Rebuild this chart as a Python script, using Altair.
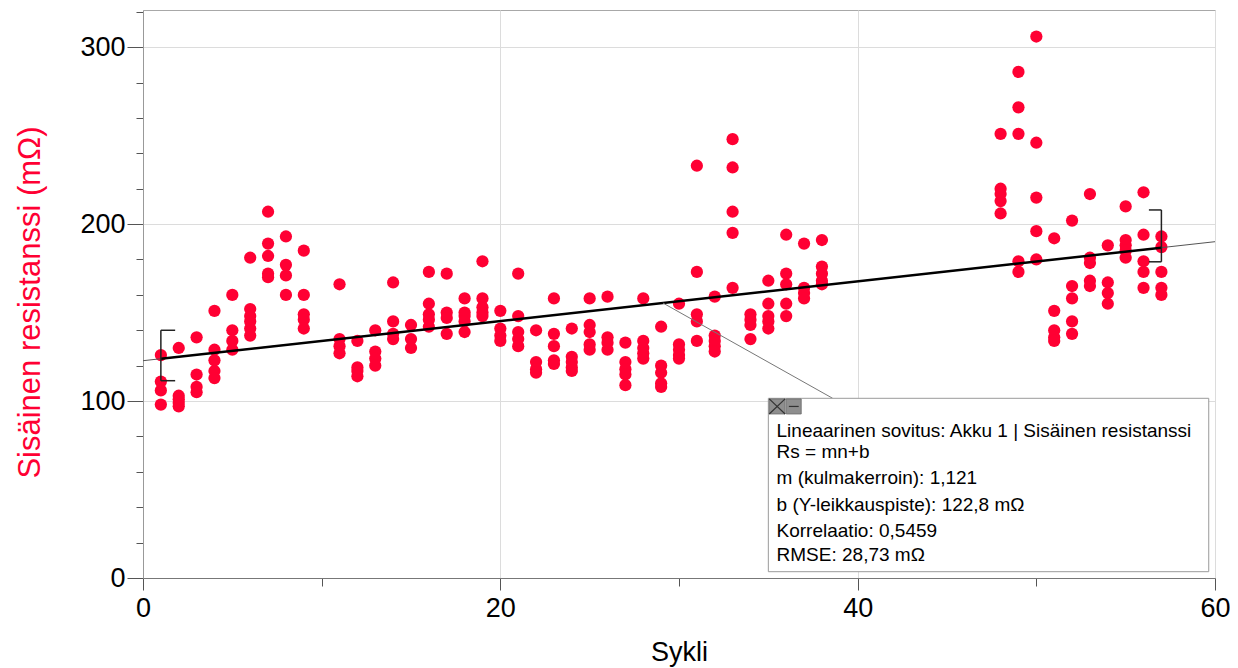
import altair as alt
import pandas as pd

# ---- data ----
cycles = [1, 2, 3, 4, 5, 6, 7, 8, 9, 11, 12, 13, 14, 15, 16, 17, 18, 19, 20,
          21, 22, 23, 24, 25, 26, 27, 28, 29, 30, 31, 32, 33, 34, 35, 36, 37, 38,
          48, 49, 50, 51, 52, 53, 54, 55, 56, 57]
resistance = [
    [126, 111, 106, 98],
    [130, 103, 101, 99, 97],
    [136, 115, 108, 105],
    [151, 129, 123, 117, 113],
    [160, 140, 134, 129],
    [181, 152, 148, 145, 141, 137],
    [207, 189, 182, 172, 170],
    [193, 177, 171, 160],
    [185, 160, 149, 146, 141],
    [166, 135, 131, 127],
    [134, 119, 117, 114],
    [140, 128, 124, 120],
    [167, 145, 138, 135],
    [143, 135, 130],
    [173, 155, 149, 146, 142],
    [172, 150, 147, 138],
    [158, 150, 148, 145, 139],
    [179, 158, 153, 150, 148],
    [151, 141, 137, 134],
    [172, 148, 139, 135, 131],
    [140, 122, 118, 116],
    [158, 138, 131, 123, 121],
    [141, 125, 122, 119, 117],
    [158, 143, 139, 132, 129],
    [159, 136, 133, 129],
    [133, 122, 118, 115, 109],
    [158, 134, 130, 127, 124],
    [142, 120, 116, 110, 108],
    [155, 132, 129, 126, 124],
    [233, 173, 149, 145, 134],
    [159, 137, 134, 131, 128],
    [248, 232, 207, 195, 164],
    [149, 146, 143, 135],
    [168, 155, 148, 145, 141],
    [194, 172, 166, 155, 148],
    [189, 164, 161, 158],
    [191, 176, 172, 168, 166],
    [251, 220, 217, 213, 206],
    [286, 266, 251, 179, 173],
    [306, 246, 215, 196, 180],
    [192, 151, 140, 136, 134],
    [202, 165, 158, 145, 138],
    [217, 181, 178, 168, 165],
    [188, 167, 161, 155],
    [210, 191, 188, 185, 181],
    [218, 194, 179, 173, 164],
    [193, 187, 173, 164, 160],
]

# linear fit shown in the box
fit_m = 1.121
fit_b = 122.8
fit_range = [1, 57]
full_range = [0, 60]

box_lines = [
    "Lineaarinen sovitus: Akku 1 | Sisäinen resistanssi",
    "Rs = mn+b",
    "m (kulmakerroin): 1,121",
    "b (Y-leikkauspiste): 122,8 mΩ",
    "Korrelaatio: 0,5459",
    "RMSE: 28,73 mΩ",
]
box_line_y = [79.7, 67.8, 53.1, 38.0, 23.2, 9.8]
box_text_x = 35.46
box_x = [35.0, 59.65]
box_y = [3.56, 101.55]
leader_x = [29.1, 38.6]

# brackets marking the fit range ends
brackets = [
    (1, 111.5, 1, 140), (1, 140, 1.8, 140), (1, 111.5, 1.8, 111.5),
    (57, 178.7, 57, 208), (56.3, 208, 57, 208), (56.3, 178.7, 57, 178.7),
]

RED = "#ff0033"
FONT = "Liberation Sans"

pts = pd.DataFrame([{"x": c, "y": v} for c, vals in zip(cycles, resistance) for v in vals])

def seg(x1, x2):
    return {"x": x1, "y": fit_m * x1 + fit_b, "x2": x2, "y2": fit_m * x2 + fit_b}

thin = pd.DataFrame([seg(*full_range)])
thick = pd.DataFrame([seg(*fit_range)])
br = pd.DataFrame([{"x": a, "y": b, "x2": c, "y2": d} for a, b, c, d in brackets])
leader = pd.DataFrame([{"x": leader_x[0], "y": fit_m * leader_x[0] + fit_b,
                        "x2": leader_x[1], "y2": box_y[1]}])
box = pd.DataFrame([{"x": box_x[0], "x2": box_x[1], "y": box_y[0], "y2": box_y[1]}])
icons = pd.DataFrame([
    {"x": 35.05, "x2": 35.94, "y": 92.7, "y2": 101.2},
    {"x": 36.0, "x2": 36.84, "y": 92.7, "y2": 101.2},
])
icon_marks = pd.DataFrame([
    {"x": 35.05, "y": 101.2, "x2": 35.94, "y2": 92.7},
    {"x": 35.05, "y": 92.7, "x2": 35.94, "y2": 101.2},
    {"x": 36.15, "y": 96.95, "x2": 36.7, "y2": 96.95},
])
texts = pd.DataFrame({"x": [box_text_x] * len(box_lines), "y": box_line_y, "t": box_lines})

xscale = alt.Scale(domain=full_range, nice=False, zero=False)
yscale = alt.Scale(domain=[0, 321], nice=False)

major_x = "datum.value % 20 === 0"
major_y = "datum.value % 100 === 0"

x_axis = alt.Axis(
    values=list(range(0, 61, 10)),
    labelExpr=f"{major_x} ? datum.label : ''",
    labelFlush=False,
    tickSize={"condition": {"test": major_x, "value": 12}, "value": 8},
    gridOpacity={"condition": {"test": major_x, "value": 1}, "value": 0},
    gridColor="#dcdcdc",
    tickColor="#555",
    domainColor="#777",
    labelFont=FONT, labelFontSize=27, labelColor="black", labelPadding=5,
    title="Sykli", titleFont=FONT, titleFontSize=27, titleFontWeight="normal",
    titleColor="black", titleBaseline="alphabetic", titleY=82,
)
y_axis = alt.Axis(
    values=list(range(0, 321, 20)),
    labelExpr=f"{major_y} ? datum.label : ''",
    labelFlush=False,
    tickSize={"condition": {"test": major_y, "value": 16}, "value": 7},
    gridOpacity={"condition": {"test": major_y, "value": 1}, "value": 0},
    gridColor="#dcdcdc",
    tickColor="#555",
    domainColor="#999",
    labelFont=FONT, labelFontSize=27, labelColor="black", labelPadding=2,
    title="Sisäinen resistanssi (mΩ)", titleFont=FONT, titleFontSize=31,
    titleFontWeight="normal", titleColor=RED, titleBaseline="alphabetic",
    titleX=-104, titleY=292,
)

X = alt.X("x:Q", scale=xscale, axis=x_axis)
Y = alt.Y("y:Q", scale=yscale, axis=y_axis)

points = alt.Chart(pts).mark_circle(size=150, color=RED, opacity=1).encode(x=X, y=Y)
thin_line = alt.Chart(thin).mark_rule(color="#555", strokeWidth=1).encode(x=X, y=Y, x2="x2:Q", y2="y2:Q")
thick_line = alt.Chart(thick).mark_rule(color="black", strokeWidth=2.5).encode(x=X, y=Y, x2="x2:Q", y2="y2:Q")
bracket_layer = alt.Chart(br).mark_rule(color="#222", strokeWidth=1.5).encode(x=X, y=Y, x2="x2:Q", y2="y2:Q")
leader_layer = alt.Chart(leader).mark_rule(color="#777", strokeWidth=1).encode(x=X, y=Y, x2="x2:Q", y2="y2:Q")
box_layer = alt.Chart(box).mark_rect(fill="white", stroke="#9a9a9a", strokeWidth=1).encode(x=X, y=Y, x2="x2:Q", y2="y2:Q")
icon_layer = alt.Chart(icons).mark_rect(fill="#8e8e8e", stroke="#666", strokeWidth=0.8).encode(x=X, y=Y, x2="x2:Q", y2="y2:Q")
icon_mark_layer = alt.Chart(icon_marks).mark_rule(color="#333", strokeWidth=1.2).encode(x=X, y=Y, x2="x2:Q", y2="y2:Q")
text_layer = alt.Chart(texts).mark_text(
    align="left", baseline="alphabetic", font=FONT, fontSize=19, color="black"
).encode(x=X, y=Y, text="t:N")

chart = alt.layer(
    points, thin_line, thick_line, bracket_layer, leader_layer,
    box_layer, icon_layer, icon_mark_layer, text_layer,
).properties(
    width=1072, height=568,
    padding={"left": 135, "top": 2, "right": 15, "bottom": 90},
    autosize=alt.AutoSizeParams(type="none"),
    background="white",
).configure_view(stroke="#a8a8a8", strokeWidth=1)

chart.save("out.html", embed_options={"renderer": "svg", "actions": False})
